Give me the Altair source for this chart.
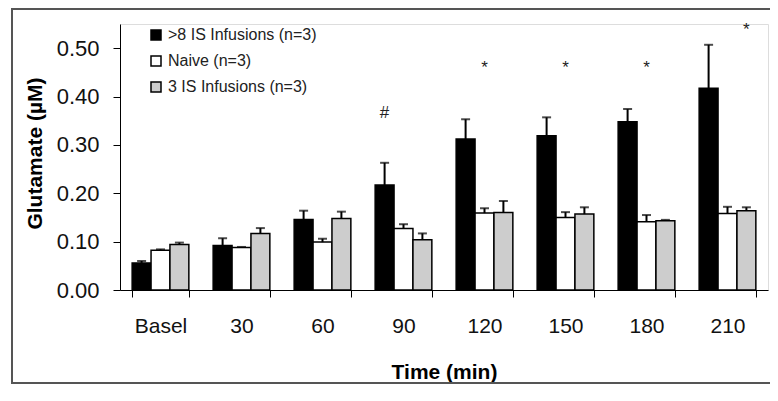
import altair as alt
import pandas as pd

times = ["Basel", "30", "60", "90", "120", "150", "180", "210"]
series = [">8 IS Infusions  (n=3)", "Naive (n=3)", "3 IS Infusions  (n=3)"]
colors = ["#000000", "#ffffff", "#cdcdcd"]

mean_8is = [0.056, 0.092, 0.146, 0.217, 0.312, 0.319, 0.348, 0.417]
err_8is = [0.060, 0.107, 0.164, 0.263, 0.353, 0.357, 0.374, 0.507]
mean_naive = [0.082, 0.088, 0.099, 0.127, 0.159, 0.150, 0.141, 0.158]
err_naive = [0.084, 0.089, 0.106, 0.136, 0.169, 0.161, 0.155, 0.172]
mean_3is = [0.094, 0.117, 0.148, 0.104, 0.160, 0.157, 0.143, 0.164]
err_3is = [0.098, 0.128, 0.162, 0.117, 0.184, 0.171, 0.145, 0.171]

ann_time = ["90", "120", "150", "180", "210"]
ann_label = ["#", "*", "*", "*", "*"]
ann_y = [0.365, 0.46, 0.46, 0.46, 0.537]
ann_series = [series[0], series[1], series[1], series[1], series[2]]

rows = []
for s, m, e in [(series[0], mean_8is, err_8is), (series[1], mean_naive, err_naive), (series[2], mean_3is, err_3is)]:
    for t, mv, ev in zip(times, m, e):
        rows.append({"time": t, "group": s, "mean": mv, "err": ev})
df = pd.DataFrame(rows)
ann = pd.DataFrame({"time": ann_time, "label": ann_label, "y": ann_y, "group": ann_series})
frame_df = pd.DataFrame({"k": [0]})

FONT = "Liberation Sans"
W, H = 648, 266

x_enc = alt.X("time:N", sort=times,
              scale=alt.Scale(paddingInner=0.3, paddingOuter=0.15),
              axis=alt.Axis(title="Time (min)", tickBand="extent", labelAngle=0,
                            labelFontSize=21, labelFont=FONT, labelColor="#111",
                            tickSize=7, labelPadding=18, domainColor="#000", tickColor="#000",
                            titleFontSize=21, titleFont=FONT, titleFontWeight="bold",
                            titleColor="#000", titleX=W / 2, titleY=88,
                            titleBaseline="alphabetic"))
xo = alt.XOffset("group:N", sort=series, scale=alt.Scale(paddingInner=0, paddingOuter=0))
y_scale = alt.Scale(domain=[0, 0.55], nice=False)

bars = alt.Chart(df).mark_bar(stroke="#000", strokeWidth=1.5).encode(
    x=x_enc,
    xOffset=xo,
    y=alt.Y("mean:Q", scale=y_scale,
            axis=alt.Axis(title="Glutamate (µM)", values=[0, 0.1, 0.2, 0.3, 0.4, 0.5],
                          format=".2f", grid=False, tickSize=7, labelPadding=14,
                          labelFontSize=22, labelFont=FONT, labelColor="#111",
                          domainColor="#000", tickColor="#000",
                          titleFontSize=21, titleFont=FONT, titleFontWeight="bold",
                          titleColor="#000", titleAngle=-90, titleX=-79, titleY=129,
                          titleAlign="center", titleBaseline="alphabetic")),
    fill=alt.Fill("group:N", sort=series,
                  scale=alt.Scale(domain=series, range=colors),
                  legend=alt.Legend(title=None, orient="none", legendX=28, legendY=3,
                                    symbolType="square", symbolSize=100,
                                    symbolStrokeColor="#000", symbolStrokeWidth=1.5,
                                    labelFontSize=16, labelFont=FONT, labelColor="#222",
                                    rowPadding=10, labelOffset=4, padding=0)),
)

err_rule = alt.Chart(df).mark_rule(color="#000", strokeWidth=2).encode(
    x=alt.X("time:N", sort=times), xOffset=xo,
    y=alt.Y("mean:Q", scale=y_scale), y2="err:Q")
err_cap = alt.Chart(df).mark_tick(color="#000", thickness=2, size=9).encode(
    x=alt.X("time:N", sort=times), xOffset=xo,
    y=alt.Y("err:Q", scale=y_scale))

ann_text = alt.Chart(ann).mark_text(fontSize=17, font=FONT, color="#222", baseline="middle").encode(
    x=alt.X("time:N", sort=times), xOffset=alt.XOffset("group:N", sort=series),
    y=alt.Y("y:Q", scale=y_scale), text="label:N")

FC = "#555555"
frame_top = alt.Chart(frame_df).mark_rect(color=FC, strokeWidth=0).encode(
    x=alt.value(-109), x2=alt.value(W + 2), y=alt.value(-16), y2=alt.value(-14))
frame_left = alt.Chart(frame_df).mark_rect(color=FC, strokeWidth=0).encode(
    x=alt.value(-109), x2=alt.value(-107), y=alt.value(-16), y2=alt.value(H + 94))
frame_bottom = alt.Chart(frame_df).mark_rect(color=FC, strokeWidth=0).encode(
    x=alt.value(-109), x2=alt.value(W + 2), y=alt.value(H + 92), y2=alt.value(H + 94))

chart = alt.layer(frame_top, frame_left, frame_bottom, bars, err_rule, err_cap, ann_text).properties(
    width=W, height=H,
    autosize=alt.AutoSizeParams(type="none"),
    padding={"left": 112, "top": 16, "right": 2, "bottom": 95},
).configure_view(strokeWidth=0).configure(background="white")

chart.save("out.html", embed_options={"renderer": "svg", "actions": False})
